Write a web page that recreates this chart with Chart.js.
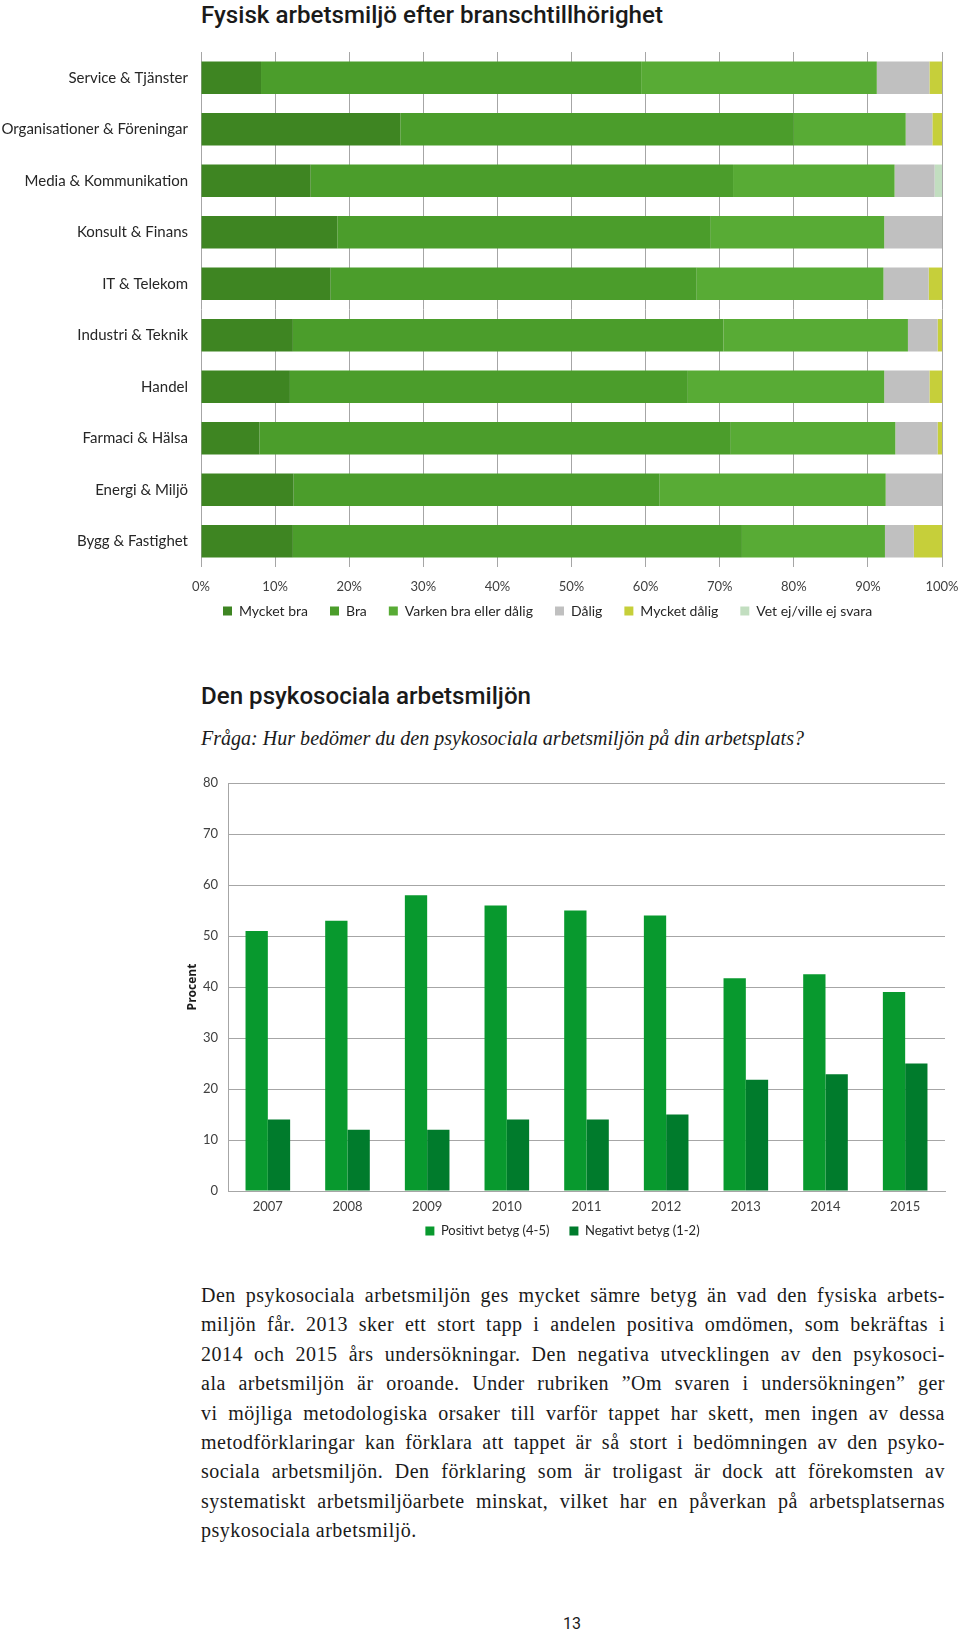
<!DOCTYPE html>
<html>
<head>
<meta charset="utf-8">
<script src="https://cdn.jsdelivr.net/npm/chart.js@4.4.0/dist/chart.umd.min.js"></script>
<style>
  html, body { margin: 0; padding: 0; background: #fff; }
  body { width: 960px; height: 1636px; position: relative; overflow: hidden; }
  .abs { position: absolute; white-space: nowrap; }
  .head { font-family: Roboto; font-weight: 500; color: #1a1a1a; transform-origin: left center; }
  #title1 { left: 201px; top: 0; font-size: 24px; line-height: 30px; }
  #title2 { left: 201px; top: 682px; font-size: 23px; line-height: 30px; }
  #question { left: 201px; top: 723px; font: italic 20px/30px "Liberation Serif"; color: #1a1a1a; transform-origin: left center; }
  #body { position: absolute; left: 201px; top: 1281px; width: 744px; font: 20px/29.4px "Liberation Serif"; letter-spacing: 0.5px; color: #1a1a1a; }
  #body div { text-align: justify; text-align-last: justify; white-space: nowrap; }
  #body div.last { text-align-last: left; }
  #pagenr { left: 562px; top: 1614px; width: 20px; text-align: center; font: 16px/20px Roboto; color: #1a1a1a; }
  #wrap1 { position: absolute; left: 0; top: 40px; width: 960px; height: 603px; }
  #wrap2 { position: absolute; left: 180px; top: 770px; width: 780px; height: 490px; }
</style>
</head>
<body>
<div id="title1" class="abs head">Fysisk arbetsmiljö efter branschtillhörighet</div>
<div id="wrap1"><canvas id="branschChart"></canvas></div>

<div id="title2" class="abs head">Den psykosociala arbetsmiljön</div>
<div id="question" class="abs">Fråga: Hur bedömer du den psykosociala arbetsmiljön på din arbetsplats?</div>
<div id="wrap2"><canvas id="psykChart"></canvas></div>

<div id="body">
  <div>Den psykosociala arbetsmiljön ges mycket sämre betyg än vad den fysiska arbets-</div>
  <div>miljön får. 2013 sker ett stort tapp i andelen positiva omdömen, som bekräftas i</div>
  <div>2014 och 2015 års undersökningar. Den negativa utvecklingen av den psykosoci-</div>
  <div>ala arbetsmiljön är oroande. Under rubriken ”Om svaren i undersökningen” ger</div>
  <div>vi möjliga metodologiska orsaker till varför tappet har skett, men ingen av dessa</div>
  <div>metodförklaringar kan förklara att tappet är så stort i bedömningen av den psyko-</div>
  <div>sociala arbetsmiljön. Den förklaring som är troligast är dock att förekomsten av</div>
  <div>systematiskt arbetsmiljöarbete minskat, vilket har en påverkan på arbetsplatsernas</div>
  <div class="last">psykosociala arbetsmiljö.</div>
</div>
<div id="pagenr" class="abs">13</div>

<script>
// Fysisk arbetsmiljö per bransch (procent)
const branscher = [
  "Service & Tjänster", "Organisationer & Föreningar", "Media & Kommunikation",
  "Konsult & Finans", "IT & Telekom", "Industri & Teknik", "Handel",
  "Farmaci & Hälsa", "Energi & Miljö", "Bygg & Fastighet"
];
const mycketBra   = [8.1, 26.9, 14.8, 18.4, 17.5, 12.4, 12.0, 7.9, 12.5, 12.4];
const bra         = [51.3, 53.1, 57.0, 50.4, 49.4, 58.1, 53.7, 63.6, 49.4, 60.6];
const varken      = [31.8, 15.1, 21.8, 23.4, 25.2, 24.9, 26.5, 22.2, 30.5, 19.3];
const dalig       = [7.1, 3.6, 5.4, 7.8, 6.1, 4.0, 6.1, 5.7, 7.6, 3.9];
const mycketDalig = [1.7, 1.3, 0, 0, 1.8, 0.6, 1.7, 0.6, 0, 3.8];
const vetEj       = [0, 0, 1.0, 0, 0, 0, 0, 0, 0, 0];

// Psykosocial arbetsmiljö per år
const ar       = ["2007", "2008", "2009", "2010", "2011", "2012", "2013", "2014", "2015"];
const positivt = [51, 53, 58, 56, 55, 54, 41.7, 42.5, 39];
const negativt = [14, 12, 12, 14, 14, 15, 21.8, 22.9, 25];

const tickFont = { family: "Lato", size: 13 };
const clear = "rgba(0,0,0,0)";

// move the legend a few px up, closer to the axis labels
const legendNudge = {
  id: "legendNudge",
  afterLayout(chart, args, opts) {
    const legend = chart.legend;
    if (!legend || !opts.dy) return;
    legend.top += opts.dy;
    legend.bottom += opts.dy;
  },
};

new Chart(document.getElementById("branschChart"), {
  type: "bar",
  plugins: [legendNudge],
  data: {
    labels: branscher,
    datasets: [
      { label: "Mycket bra", data: mycketBra, backgroundColor: "#3e8522" },
      { label: "Bra", data: bra, backgroundColor: "#4b9d2b" },
      { label: "Varken bra eller dålig", data: varken, backgroundColor: "#58ab35" },
      { label: "Dålig", data: dalig, backgroundColor: "#c0c0c0" },
      { label: "Mycket dålig", data: mycketDalig, backgroundColor: "#c6cf3a" },
      { label: "Vet ej/ville ej svara", data: vetEj, backgroundColor: "#c2dec0" },
    ],
  },
  options: {
    indexAxis: "y",
    responsive: true,
    maintainAspectRatio: false,
    animation: false,
    barPercentage: 0.63,
    categoryPercentage: 1,
    layout: { padding: { top: 12, right: 18, left: 0, bottom: 0 } },
    plugins: {
      legend: {
        position: "bottom",
        align: "start",
        fullSize: false,
        labels: { boxWidth: 9, boxHeight: 9, padding: 22, color: "#262626", font: { family: "Lato", size: 14 } },
      },
      legendNudge: { dy: -15 },
      tooltip: { enabled: false },
    },
    scales: {
      x: {
        stacked: true,
        min: 0,
        max: 100,
        border: { display: false },
        grid: { color: "#a6a6a6", tickLength: 12, tickColor: clear },
        ticks: { stepSize: 10, padding: 0, color: "#404040", font: tickFont, callback: (v) => v + "%" },
        afterFit: (s) => { s.height = 30; },
      },
      y: {
        stacked: true,
        border: { display: false },
        grid: { color: clear, drawOnChartArea: false, tickLength: 13, tickColor: clear },
        ticks: { padding: 0, color: "#262626", font: { family: "Lato", size: 15 } },
        afterFit: (s) => { s.width = 201; },
      },
    },
  },
});

new Chart(document.getElementById("psykChart"), {
  type: "bar",
  plugins: [legendNudge],
  data: {
    labels: ar,
    datasets: [
      { label: "Positivt betyg (4-5)", data: positivt, backgroundColor: "#08992e" },
      { label: "Negativt betyg (1-2)", data: negativt, backgroundColor: "#007b2c" },
    ],
  },
  options: {
    responsive: true,
    maintainAspectRatio: false,
    animation: false,
    barPercentage: 1,
    categoryPercentage: 0.56,
    layout: { padding: { top: 13, right: 15, left: 0, bottom: 0 } },
    plugins: {
      legend: {
        position: "bottom",
        labels: { boxWidth: 9, boxHeight: 9, padding: 20, color: "#262626", font: tickFont },
      },
      legendNudge: { dy: -12.5 },
      tooltip: { enabled: false },
    },
    scales: {
      x: {
        grid: { color: clear, drawOnChartArea: false, tickLength: 8, tickColor: clear },
        border: { display: true, color: "#a6a6a6" },
        ticks: { padding: 0, color: "#404040", font: tickFont },
        afterFit: (s) => { s.height = 26; },
      },
      y: {
        min: 0,
        max: 80,
        grid: { color: "#a6a6a6", tickLength: 10, tickColor: clear },
        border: { display: true, color: "#a6a6a6" },
        ticks: { stepSize: 10, padding: 0, color: "#404040", font: tickFont },
        title: {
          display: true,
          text: "Procent",
          color: "#1a1a1a",
          font: { family: "Open Sans", weight: "bold", size: 12 },
          padding: { top: 5, bottom: 0 },
        },
        afterFit: (s) => { s.width = 48; },
      },
    },
  },
});

// stretch headings to the widths measured in the original
function fitWidth(id, w) {
  const el = document.getElementById(id);
  const r = el.getBoundingClientRect().width;
  el.style.transform = "scaleX(" + (w / r) + ")";
}
fitWidth("title1", 462);
fitWidth("title2", 330);
fitWidth("question", 603);
</script>
</body>
</html>
